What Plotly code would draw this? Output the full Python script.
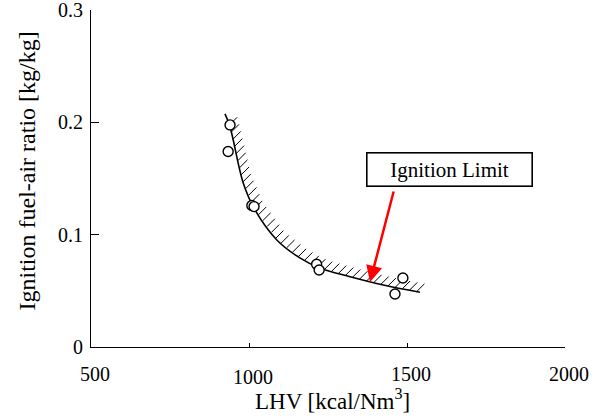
import numpy as np
import plotly.graph_objects as go

# ---- data ----
pts_x = [940, 934, 1009, 1016, 1214, 1222, 1487, 1462]
pts_y = [0.1977, 0.174, 0.126, 0.125, 0.0736, 0.0686, 0.0614, 0.0472]

curve_x = [924, 940, 982, 1019, 1088, 1161, 1225, 1320, 1425, 1541]
curve_y = [0.2075, 0.1959, 0.1458, 0.122, 0.0953, 0.0793, 0.0701, 0.0626, 0.0552, 0.0487]

x_ticks = [500, 1000, 1500, 2000]
x_tick_labels = ["500", "1000", "1500", "2000"]
x_label_drop = [0, 3, 0, 0]
y_ticks = [0, 0.1, 0.2, 0.3]
y_tick_labels = ["0", "0.1", "0.2", "0.3"]

label_text = "Ignition Limit"
label_pos = (1633, 0.1576)
arrow_tip = (1383, 0.0579)
arrow_tail = (1459, 0.1398)

# ---- layout geometry ----
W, H = 606, 419
ML, MR, MT, MB = 91, 41, 10, 72
XR = [500, 2000]
YR = [0, 0.3]
pxx = (W - ML - MR) / (XR[1] - XR[0])
pxy = (H - MT - MB) / (YR[1] - YR[0])

FONT = "Liberation Serif, Times New Roman, serif"

# ---- hatch derived from the curve ----
cx = (np.array(curve_x) - XR[0]) * pxx
cy = -(np.array(curve_y) - YR[0]) * pxy
seg = np.hypot(np.diff(cx), np.diff(cy))
s = np.concatenate([[0], np.cumsum(seg)])
hx, hy = [], []
step = 7.3
for d in np.arange(12, s[-1] + 0.1, step):
    px = np.interp(d, s, cx)
    py = np.interp(d, s, cy)
    x0 = px / pxx + XR[0]
    y0 = -py / pxy + YR[0]
    hx += [x0, x0 + 7.8 / pxx, None]
    hy += [y0, y0 + 7.8 / pxy, None]

fig = go.Figure()
fig.add_trace(go.Scatter(x=hx, y=hy, mode="lines",
                         line=dict(color="black", width=1), hoverinfo="skip"))
fig.add_trace(go.Scatter(x=curve_x, y=curve_y, mode="lines",
                         line=dict(color="black", width=1.6, shape="spline", smoothing=1.0)))
fig.add_trace(go.Scatter(x=pts_x, y=pts_y, mode="markers",
                         marker=dict(symbol="circle", size=10, color="white",
                                     line=dict(color="black", width=1.4))))

annotations = []
for xv, lab, drop in zip(x_ticks, x_tick_labels, x_label_drop):
    annotations.append(dict(x=xv, y=0, xref="x", yref="paper", text=lab,
                            showarrow=False, xanchor="center", yanchor="top",
                            xshift=4, yshift=-14 - drop,
                            font=dict(family=FONT, size=20, color="black")))
annotations.append(dict(x=0.5, y=0, xref="paper", yref="paper",
                        text="LHV [kcal/Nm<sup>3</sup>]", showarrow=False,
                        xanchor="center", yanchor="bottom", xshift=4, yshift=-(MB - 3),
                        font=dict(family=FONT, size=23, color="black")))
annotations.append(dict(x=0, y=0.5, xref="paper", yref="paper",
                        text="Ignition fuel-air ratio [kg/kg]", showarrow=False,
                        textangle=-90, xanchor="center", yanchor="middle",
                        xshift=-65, yshift=7,
                        font=dict(family=FONT, size=24, color="black")))
annotations.append(dict(x=arrow_tip[0], y=arrow_tip[1], xref="x", yref="y",
                        ax=arrow_tail[0], ay=arrow_tail[1], axref="x", ayref="y",
                        showarrow=True, arrowhead=2, arrowsize=1.3, arrowwidth=2.5,
                        arrowcolor="#ff0000", text=""))
annotations.append(dict(x=label_pos[0], y=label_pos[1], xref="x", yref="y",
                        text=label_text, showarrow=False, xanchor="center", yanchor="middle",
                        width=162, height=30, bgcolor="white", bordercolor="black",
                        borderwidth=1.6, borderpad=1,
                        font=dict(family=FONT, size=21, color="black")))

fig.update_layout(
    width=W, height=H, margin=dict(l=ML, r=MR, t=MT, b=MB, autoexpand=False),
    paper_bgcolor="white", plot_bgcolor="white", showlegend=False,
    annotations=annotations,
    xaxis=dict(range=XR, showgrid=False, zeroline=False, showline=True, automargin=False,
               linecolor="black", linewidth=1, ticks="inside", ticklen=4,
               tickcolor="black", tickvals=x_ticks[1:], showticklabels=False),
    yaxis=dict(range=YR, showgrid=False, zeroline=False, showline=True, automargin=False,
               linecolor="black", linewidth=1, ticks="inside", ticklen=8,
               tickcolor="black", tickvals=y_ticks, ticktext=y_tick_labels,
               ticklabelstandoff=3, ticklabeloverflow="allow",
               tickfont=dict(family=FONT, size=20, color="black")),
)
fig.write_html("out.html")
